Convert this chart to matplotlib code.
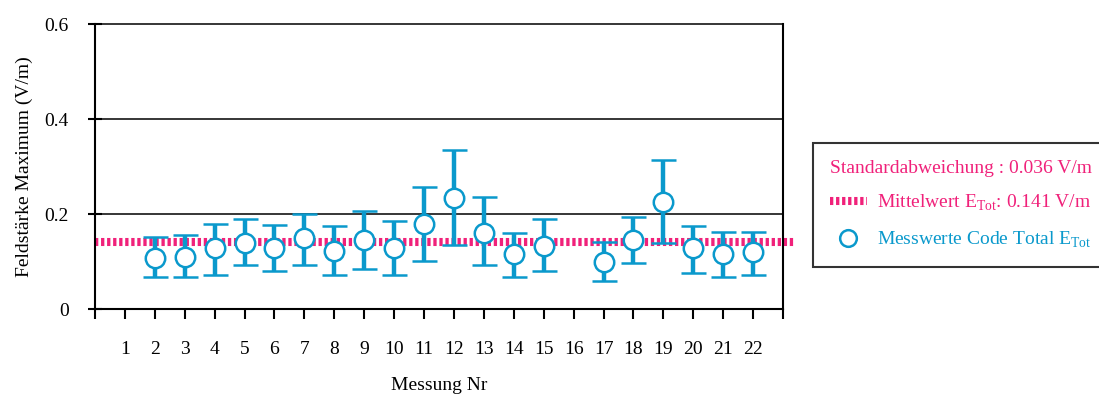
import numpy as np
import matplotlib
matplotlib.use("Agg")
import matplotlib.pyplot as plt
from matplotlib.lines import Line2D

# measurement numbers (no data for 1 and 16)
messung = [2, 3, 4, 5, 6, 7, 8, 9, 10, 11, 12, 13, 14, 15, 17, 18, 19, 20, 21, 22]
werte = [0.108, 0.110, 0.128, 0.140, 0.128, 0.149, 0.123, 0.145, 0.128, 0.178,
         0.233, 0.161, 0.115, 0.133, 0.098, 0.145, 0.225, 0.128, 0.115, 0.119]
oben = [0.151, 0.156, 0.180, 0.189, 0.176, 0.201, 0.175, 0.206, 0.185, 0.256,
        0.335, 0.235, 0.159, 0.189, 0.142, 0.193, 0.314, 0.175, 0.163, 0.163]
unten = [0.068, 0.068, 0.072, 0.093, 0.080, 0.093, 0.072, 0.084, 0.072, 0.101,
         0.135, 0.093, 0.067, 0.080, 0.058, 0.096, 0.138, 0.075, 0.068, 0.072]
tick_labels = [str(i) for i in range(1, 23)]
mittelwert = 0.141
std_abw = 0.036

blau = '#0a99cc'
pink = '#f0217a'
punkte = (0, (0.41, 0.34))

plt.rcParams['font.family'] = ['Liberation Serif', 'DejaVu Serif']
plt.rcParams['mathtext.fontset'] = 'custom'
plt.rcParams['mathtext.rm'] = 'Liberation Serif'

fig = plt.figure(figsize=(10.99, 3.94), dpi=100)
ax = fig.add_axes([0.0864, 0.2157, 0.6261, 0.7233])

x = np.array(messung)
y = np.array(werte)
yerr = [y - np.array(unten), np.array(oben) - y]

# mean line, runs a bit past the right spine
ax.plot([0, 23.35], [mittelwert, mittelwert], color=pink, lw=5.8,
        linestyle=punkte, clip_on=False, zorder=2)

for gy in [0.2, 0.4]:
    ax.axhline(gy, color='black', lw=1.1, zorder=1)

ax.errorbar(x, y, yerr=yerr, fmt='o', color=blau, ecolor=blau, elinewidth=3.2,
            capsize=9, capthick=3, markersize=14, markerfacecolor='white',
            markeredgecolor=blau, markeredgewidth=1.8, zorder=3)

ax.set_xlim(0, 23)
ax.set_ylim(0, 0.6)
ax.set_xticks(range(0, 24))
ax.set_xticklabels([''] + tick_labels + [''])
ax.set_yticks([0, 0.2, 0.4, 0.6])
ax.set_yticklabels(['0', '0.2', '0.4', '0.6'])
ax.tick_params(axis='x', direction='out', length=7, width=1.5, pad=16, labelsize=14)
ax.tick_params(axis='y', direction='inout', length=10, width=1.5, pad=14, labelsize=14)
for s in ax.spines.values():
    s.set_linewidth(1.5)
ax.spines['top'].set_linewidth(1.1)

ax.set_xlabel('Messung Nr', fontsize=14, labelpad=14)
ax.set_ylabel('Feldstärke Maximum (V/m)', fontsize=14, labelpad=8)

handles = [
    Line2D([0], [0], color=pink, lw=5.8, linestyle=punkte),
    Line2D([0], [0], color=blau, marker='o', linestyle='none', markersize=12,
           markerfacecolor='white', markeredgewidth=1.8),
]
labels = ['Mittelwert E$_{\\rm Tot}$: %.3f V/m' % mittelwert,
          'Messwerte Code Total E$_{\\rm Tot}$']
leg = fig.legend(handles, labels, loc='upper left', bbox_to_anchor=(0.74, 0.637),
                 title='Standardabweichung : %.3f V/m' % std_abw, alignment='left',
                 fontsize=14, title_fontsize=14, frameon=True, fancybox=False,
                 edgecolor='black', handlelength=1.9, handletextpad=0.55,
                 labelspacing=0.85, borderpad=0.85, borderaxespad=0)
leg.get_frame().set_linewidth(1.5)
leg.get_title().set_color(pink)
leg.get_texts()[0].set_color(pink)
leg.get_texts()[1].set_color(blau)

fig.savefig('out.png', dpi=100)
